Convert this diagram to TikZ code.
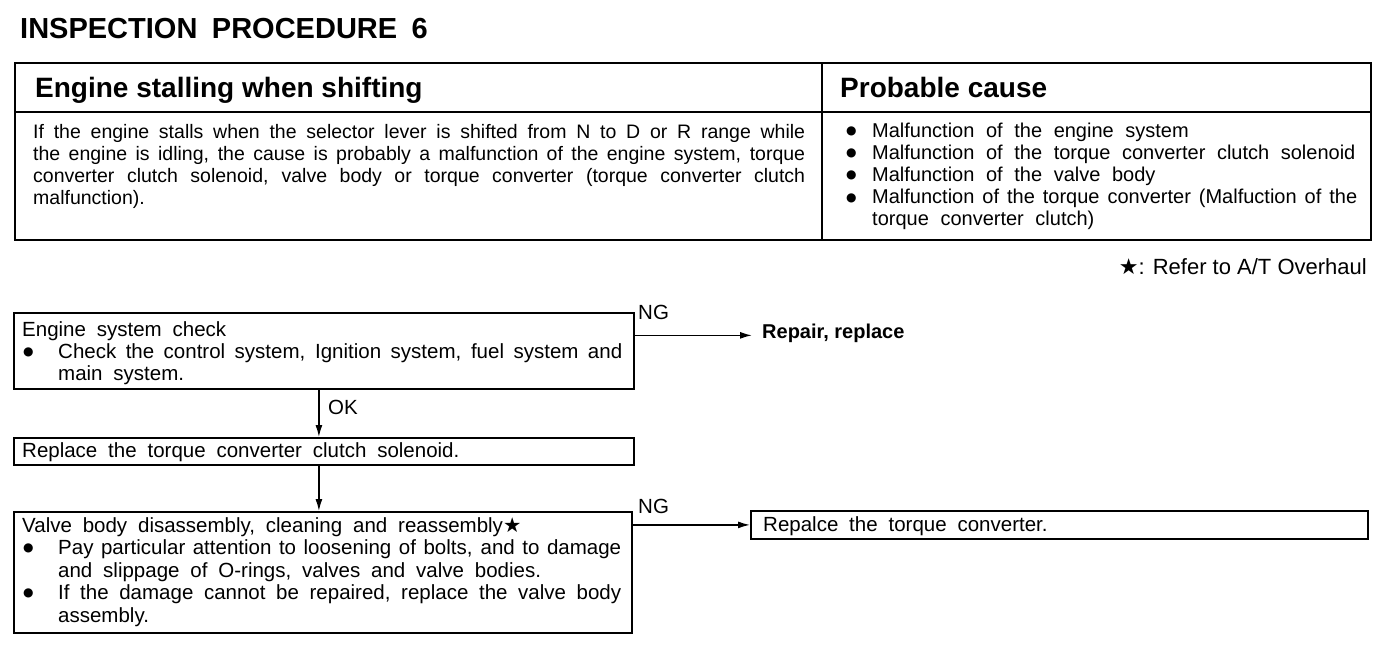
\documentclass[tikz,border=0pt]{standalone}
\usepackage{fontspec}
\setmainfont{Liberation Sans}
\newfontfamily\symfont{DejaVu Sans}
\usetikzlibrary{arrows.meta}
\newcommand{\ws}[1]{\spaceskip=#1em plus 0.3em minus 0.22em\relax\hyphenpenalty=10000\relax}
\newcommand{\bul}[1]{\hangindent=#1\hangafter=1\noindent\makebox[#1][l]{\hspace{1pt}\raisebox{2.6pt}{\symfont\fontsize{12}{12}\selectfont ●}}}
\begin{document}
\begin{tikzpicture}[x=1pt,y=-1pt,
  box/.style={draw, line width=1.8pt, inner sep=0pt, anchor=north west},
  txt/.style={inner sep=0pt, anchor=base west, align=justify, font=\fontsize{20.5}{22.3}\selectfont\ws{0.53}},
  lbl/.style={inner sep=0pt, anchor=base west, font=\fontsize{20.5}{22}\selectfont},
  hdr/.style={inner sep=0pt, anchor=base west, font=\bfseries\fontsize{28}{30}\selectfont},
  arr/.style={line width=1.5pt, -{Latex[length=12pt,width=7pt]}},
  rule/.style={line width=1.8pt}]
\fill[white] (0,0) rectangle (1392,648);
\useasboundingbox (0,0) rectangle (1392,648);

% title
\node[hdr, font=\bfseries\fontsize{29}{31}\selectfont\ws{0.5}] (title) at (20,38) {INSPECTION PROCEDURE 6};

% table
\draw[line width=2pt] (15,63) rectangle (1371,240);
\draw[rule] (15,112) -- (1371,112);
\draw[rule] (822,63) -- (822,240);
\node[hdr] (h1) at (35,97) {Engine stalling when shifting};
\node[hdr] (h2) at (840,97) {Probable cause};
\node[txt, text width=772pt, font=\fontsize{19.5}{22}\selectfont\ws{0.53}] (desc) at (33,138) {\parindent=0pt If the engine stalls when the selector lever is shifted from N to D or R range while\linebreak the engine is idling, the cause is probably a malfunction of the engine system, torque\linebreak converter clutch solenoid, valve body or torque converter (torque converter clutch\linebreak malfunction).\par};
\node[txt, text width=512pt, font=\fontsize{20}{22.2}\selectfont\ws{0.58}] (cause) at (845,137) {\parindent=0pt
\bul{27pt}Malfunction of the engine system\par
\bul{27pt}Malfunction of the torque converter clutch solenoid\par
\bul{27pt}Malfunction of the valve body\par
\bul{27pt}Malfunction of the torque converter (Malfuction of the\linebreak torque converter clutch)\par};

\node[inner sep=0pt, anchor=base east, font=\fontsize{22}{24}\selectfont] (note) at (1367,274) {{\symfont ★}: Refer to A/T Overhaul};

% flowchart boxes
\node[box, minimum width=620pt, minimum height=76pt] (b1) at (13,312) {};
\node[box, minimum width=620pt, minimum height=27pt] (b2) at (13,437) {};
\node[box, minimum width=618pt, minimum height=121pt] (b3) at (13,511) {};
\node[box, minimum width=617pt, minimum height=28pt] (b4) at (750,510) {};

\node[txt, text width=600pt] (t1) at (22,336) {\parindent=0pt Engine system check\par
\bul{36pt}Check the control system, Ignition system, fuel system and\linebreak main system.\par};
\node[txt] (t2) at (22,457) {Replace the torque converter clutch solenoid.};
\node[txt, text width=599pt, font=\fontsize{20.5}{22.5}\selectfont\ws{0.53}] (t3) at (22,532) {\parindent=0pt Valve body disassembly, cleaning and reassembly{\symfont ★}\par
\bul{36pt}Pay particular attention to loosening of bolts, and to damage\linebreak and slippage of O-rings, valves and valve bodies.\par
\bul{36pt}If the damage cannot be repaired, replace the valve body\linebreak assembly.\par};
\node[txt] (t4) at (763,531) {Repalce the torque converter.};

% results and labels
\node[inner xsep=10pt, inner ysep=0pt, anchor=base west, font=\bfseries\fontsize{20}{22}\selectfont] (rr) at (752,338) {Repair, replace};
\node[lbl] (ng1) at (638,319) {NG};
\node[lbl] (ng2) at (638,513) {NG};
\node[lbl] (ok) at (328,414) {OK};

% connectors
\draw[arr] ([xshift=-5pt]b1.south) -- ([xshift=-5pt]b1.south |- b2.north);
\draw[arr] ([xshift=-5pt]b2.south) -- ([xshift=-5pt]b2.south |- b3.north);
\draw[arr] (b1.east |- rr.mid west) -- (rr.mid west);
\draw[arr] (b3.east |- b4.west) -- (b4.west);
\end{tikzpicture}
\end{document}
